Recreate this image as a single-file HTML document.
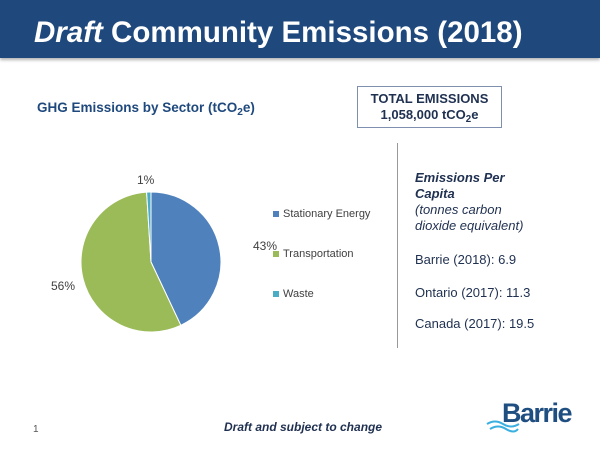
<!DOCTYPE html>
<html><head><style>
body{margin:0;width:600px;height:450px;background:#fff;font-family:"Liberation Sans",sans-serif;position:relative;overflow:hidden}
.hdr{position:absolute;left:0;top:0;width:600px;height:58px;background:#1f497d;box-shadow:0 2px 3px rgba(0,0,0,.3)}
.hdr div{position:absolute;left:34px;top:16px;color:#fff;font-size:29.5px;font-weight:bold;white-space:nowrap}
.t{position:absolute;white-space:nowrap}
.sub{font-size:75%;vertical-align:-3px;line-height:0}
</style></head><body>
<div class="hdr"><div><i>Draft</i> Community Emissions (2018)</div></div>
<div class="t" style="left:37px;top:100px;font-size:13.5px;font-weight:bold;color:#1f497d">GHG Emissions by Sector (tCO<span class="sub">2</span>e)</div>
<div style="position:absolute;left:357px;top:86px;width:145px;height:42px;border:1px solid #7f8fb0;text-align:center;font-size:13px;font-weight:bold;color:#1f3050;line-height:16px;padding-top:4px;box-sizing:border-box">TOTAL EMISSIONS<br>1,058,000 tCO<span class="sub">2</span>e</div>
<svg style="position:absolute;left:0;top:0" width="600" height="450">
<path d="M151,262 L151,192 A70,70 0 0 1 180.8,325.3 Z" fill="#4f81bd" stroke="#fff" stroke-width="1"/>
<path d="M151,262 L180.8,325.3 A70,70 0 1 1 146.6,192.1 Z" fill="#9bbb59" stroke="#fff" stroke-width="1"/>
<path d="M151,262 L146.6,192.1 A70,70 0 0 1 151,192 Z" fill="#4bacc6" stroke="#fff" stroke-width="1"/>
<rect x="273" y="211" width="6" height="6" fill="#4f81bd"/>
<rect x="273" y="251" width="6" height="6" fill="#9bbb59"/>
<rect x="273" y="291" width="6" height="6" fill="#4bacc6"/>
<line x1="397.5" y1="143" x2="397.5" y2="348" stroke="#999" stroke-width="1"/>
<path d="M487,424 q8,-5 16,0 t16,0" fill="none" stroke="#3bb0e0" stroke-width="2"/>
<path d="M490,429 q8,-5 16,0 t12,0" fill="none" stroke="#3bb0e0" stroke-width="2"/>
</svg>
<div class="t" style="left:283px;top:208px;font-size:11px;color:#404040">Stationary Energy</div>
<div class="t" style="left:283px;top:248px;font-size:11px;color:#404040">Transportation</div>
<div class="t" style="left:283px;top:288px;font-size:11px;color:#404040">Waste</div>
<div class="t" style="left:137px;top:173px;font-size:12px;color:#404040">1%</div>
<div class="t" style="left:253px;top:239px;font-size:12px;color:#404040">43%</div>
<div class="t" style="left:51px;top:279px;font-size:12px;color:#404040">56%</div>
<div class="t" style="left:415px;top:170px;font-size:13px;color:#1f3050;line-height:16px;white-space:normal;width:130px"><b><i>Emissions Per Capita</i></b><br><i>(tonnes carbon dioxide equivalent)</i></div>
<div class="t" style="left:415px;top:252px;font-size:13px;color:#1f3050">Barrie (2018): 6.9</div>
<div class="t" style="left:415px;top:285px;font-size:13px;color:#1f3050">Ontario (2017): 11.3</div>
<div class="t" style="left:415px;top:316px;font-size:13px;color:#1f3050">Canada (2017): 19.5</div>
<div class="t" style="left:33px;top:424px;font-size:10px;color:#555">1</div>
<div class="t" style="left:224px;top:420px;font-size:12px;font-weight:bold;font-style:italic;color:#1f3050">Draft and subject to change</div>
<div class="t" style="left:502px;top:398px;font-size:27px;font-weight:bold;color:#1f4e80;letter-spacing:-1.5px">Barrie</div>
</body></html>
